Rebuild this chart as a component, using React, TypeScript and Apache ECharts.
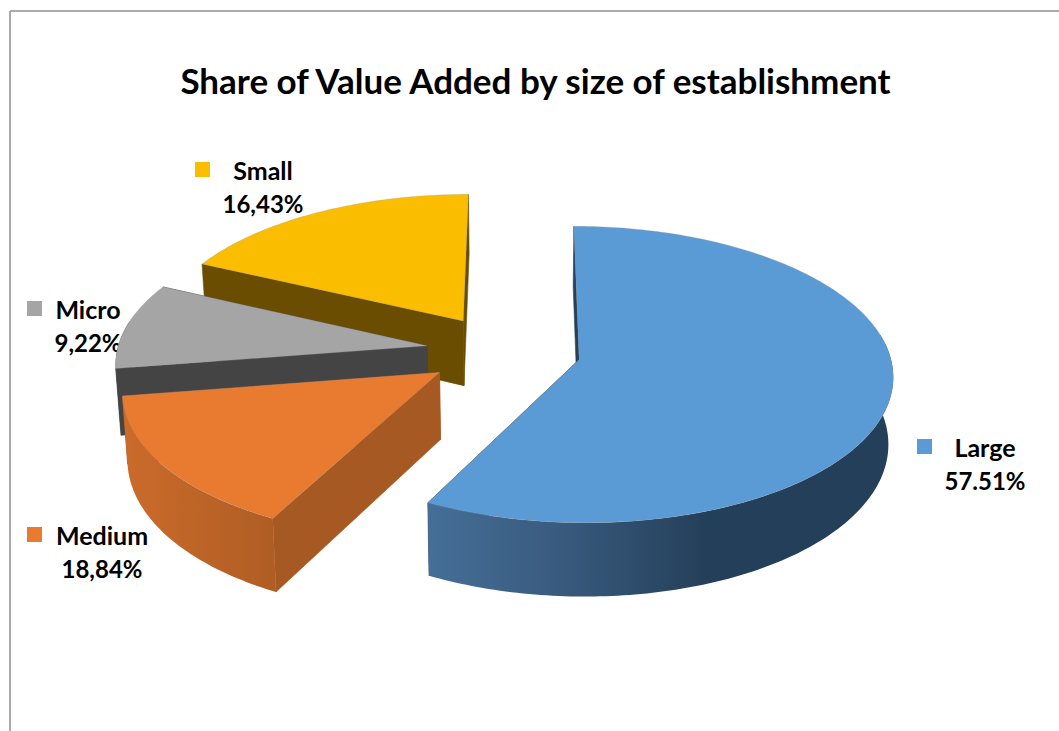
import React, { useEffect, useRef } from "react";
import * as echarts from "echarts";

const TITLE = "Share of Value Added by size of establishment";
const categories = ["Large", "Medium", "Micro", "Small"];
// Printed labels, as they read in the picture.
const labelTexts = ["57.51%", "18,84%", "9,22%", "16,43%"];
// Slice sizes as drawn in the picture (% of the circle).
const drawnShares = [57.58, 14.94, 9.5, 17.98];
// How far each slice is pulled out of the pie, in radii.
const explosions = [0.25, 0.25, 0.25, 0.25];

const topColors = ["#5B9BD5", "#E97B30", "#A5A5A5", "#FBBD00"];
const sideColors = ["#24405A", "#A65922", "#444444", "#6A4D00"];
const wallStops: [number, string][][] = [
  [[0, "#456F98"], [0.3, "#38597C"], [0.6, "#243F59"], [1, "#243F59"]],
  [[0, "#CB6B2B"], [1, "#AF5D24"]],
  [[0, "#444444"], [1, "#444444"]],
  [[0, "#6A4D00"], [1, "#6A4D00"]],
];
const drawOrder = [3, 2, 1, 0];
const labelBoxes = [
  { key: [917, 439], cx: 985, y1: 447, y2: 480 },
  { key: [27, 527], cx: 102, y1: 535, y2: 568 },
  { key: [27, 301], cx: 88, y1: 309, y2: 342 },
  { key: [195, 162], cx: 263, y1: 170, y2: 203 },
];

const FONT = "Lato";
const view = { ox: 503.5, oy: 351, vx: 521.5, rx: 310, k: 145, p: 0.1, depth: 66, shrink: 0.987 };
const RAD = Math.PI / 180;

const project = (X: number, Z: number) => {
  const w = 1 + view.p * Z;
  return [view.vx + (view.ox - view.vx + view.rx * X) / w, view.oy - (view.k * Z) / w];
};
const projectBottom = (X: number, Z: number) => {
  const w = 1 + view.p * Z;
  const [x, y] = project(X, Z);
  return [view.vx + (x - view.vx) * view.shrink, y + view.depth / w];
};

const total = drawnShares.reduce((a, b) => a + b, 0);
const angleRange = (i: number) => {
  let s = 0;
  for (let j = 0; j < i; j++) s += drawnShares[j];
  return [(s / total) * 360, ((s + drawnShares[i]) / total) * 360];
};

const renderSlice = (_params: any, api: any) => {
  const i = api.value(0);
  const [a, b] = angleRange(i);
  const mid = ((a + b) / 2) * RAD;
  const ex = explosions[i] * Math.sin(mid);
  const ez = explosions[i] * Math.cos(mid);
  const rim = (deg: number) => [ex + Math.sin(deg * RAD), ez + Math.cos(deg * RAD)];
  const arc = (from: number, to: number) => {
    const out: number[][] = [];
    const n = Math.max(2, Math.ceil(Math.abs(to - from)));
    for (let t = 0; t <= n; t++) out.push(rim(from + ((to - from) * t) / n));
    return out;
  };
  const top = (q: number[]) => project(q[0], q[1]);
  const bot = (q: number[]) => projectBottom(q[0], q[1]);
  const apex = [ex, ez];
  const children: any[] = [];
  const poly = (points: number[][], fill: any, stroke?: any) => ({
    type: "polygon",
    shape: { points },
    style: { fill, stroke: stroke ?? "none", lineWidth: 0.6 },
  });
  // Two radial walls come first, so that the outer wall hides the one turned away.
  [a, b].forEach((deg) => {
    const r = rim(deg);
    children.push(poly([top(apex), top(r), bot(r), bot(apex)], sideColors[i], sideColors[i]));
  });
  // Outer wall, only the part that can face the viewer.
  const wa = Math.max(a, 80);
  const wb = Math.min(b, 280);
  if (wb > wa) {
    const edge = arc(wa, wb);
    const pts = edge.map(top).concat(edge.slice().reverse().map(bot));
    children.push(poly(pts, new echarts.graphic.LinearGradient(0, 0, 1, 0, wallStops[i].map(([offset, color]) => ({ offset, color })))));
  }
  // Top face.
  const face = [apex].concat(arc(a, b)).map(top);
  children.push(poly(face, topColors[i], "rgba(150,150,150,0.45)"));
  return { type: "group", children };
};

export default function App() {
  const ref = useRef<HTMLDivElement>(null);
  useEffect(() => {
    const chart = echarts.init(ref.current!, null, { renderer: "svg" });
    const graphics: any[] = [
      { type: "line", shape: { x1: 10, y1: 11, x2: 1059, y2: 11 }, style: { stroke: "#ABABAB", lineWidth: 2 } },
      { type: "line", shape: { x1: 10, y1: 11, x2: 10, y2: 731 }, style: { stroke: "#ABABAB", lineWidth: 2 } },
    ];
    categories.forEach((name, i) => {
      const box = labelBoxes[i];
      graphics.push({ type: "rect", shape: { x: box.key[0], y: box.key[1], width: 15, height: 15 }, style: { fill: topColors[i] } });
      [[name, box.y1, 25], [labelTexts[i], box.y2, 24]].forEach(([text, y, size]) => {
        graphics.push({
          type: "text",
          x: box.cx,
          y: y as number,
          style: { text: text as string, fill: "#000", font: `700 ${size}px ${FONT}`, textAlign: "center", textVerticalAlign: "middle" },
        });
      });
    });
    chart.setOption({
      animation: false,
      backgroundColor: "#fff",
      title: {
        text: TITLE,
        left: 530.5,
        top: 57,
        textAlign: "center",
        textStyle: { fontFamily: FONT, fontWeight: 700, fontSize: 35, color: "#000" },
      },
      graphic: graphics,
      series: [
        {
          type: "custom",
          coordinateSystem: "none",
          silent: true,
          renderItem: renderSlice,
          data: drawOrder.map((i) => [i, drawnShares[i]]),
        },
      ],
    });
    return () => chart.dispose();
  }, []);
  return <div ref={ref} style={{ position: "fixed", left: 0, top: 0, width: 1059, height: 731 }} />;
}
